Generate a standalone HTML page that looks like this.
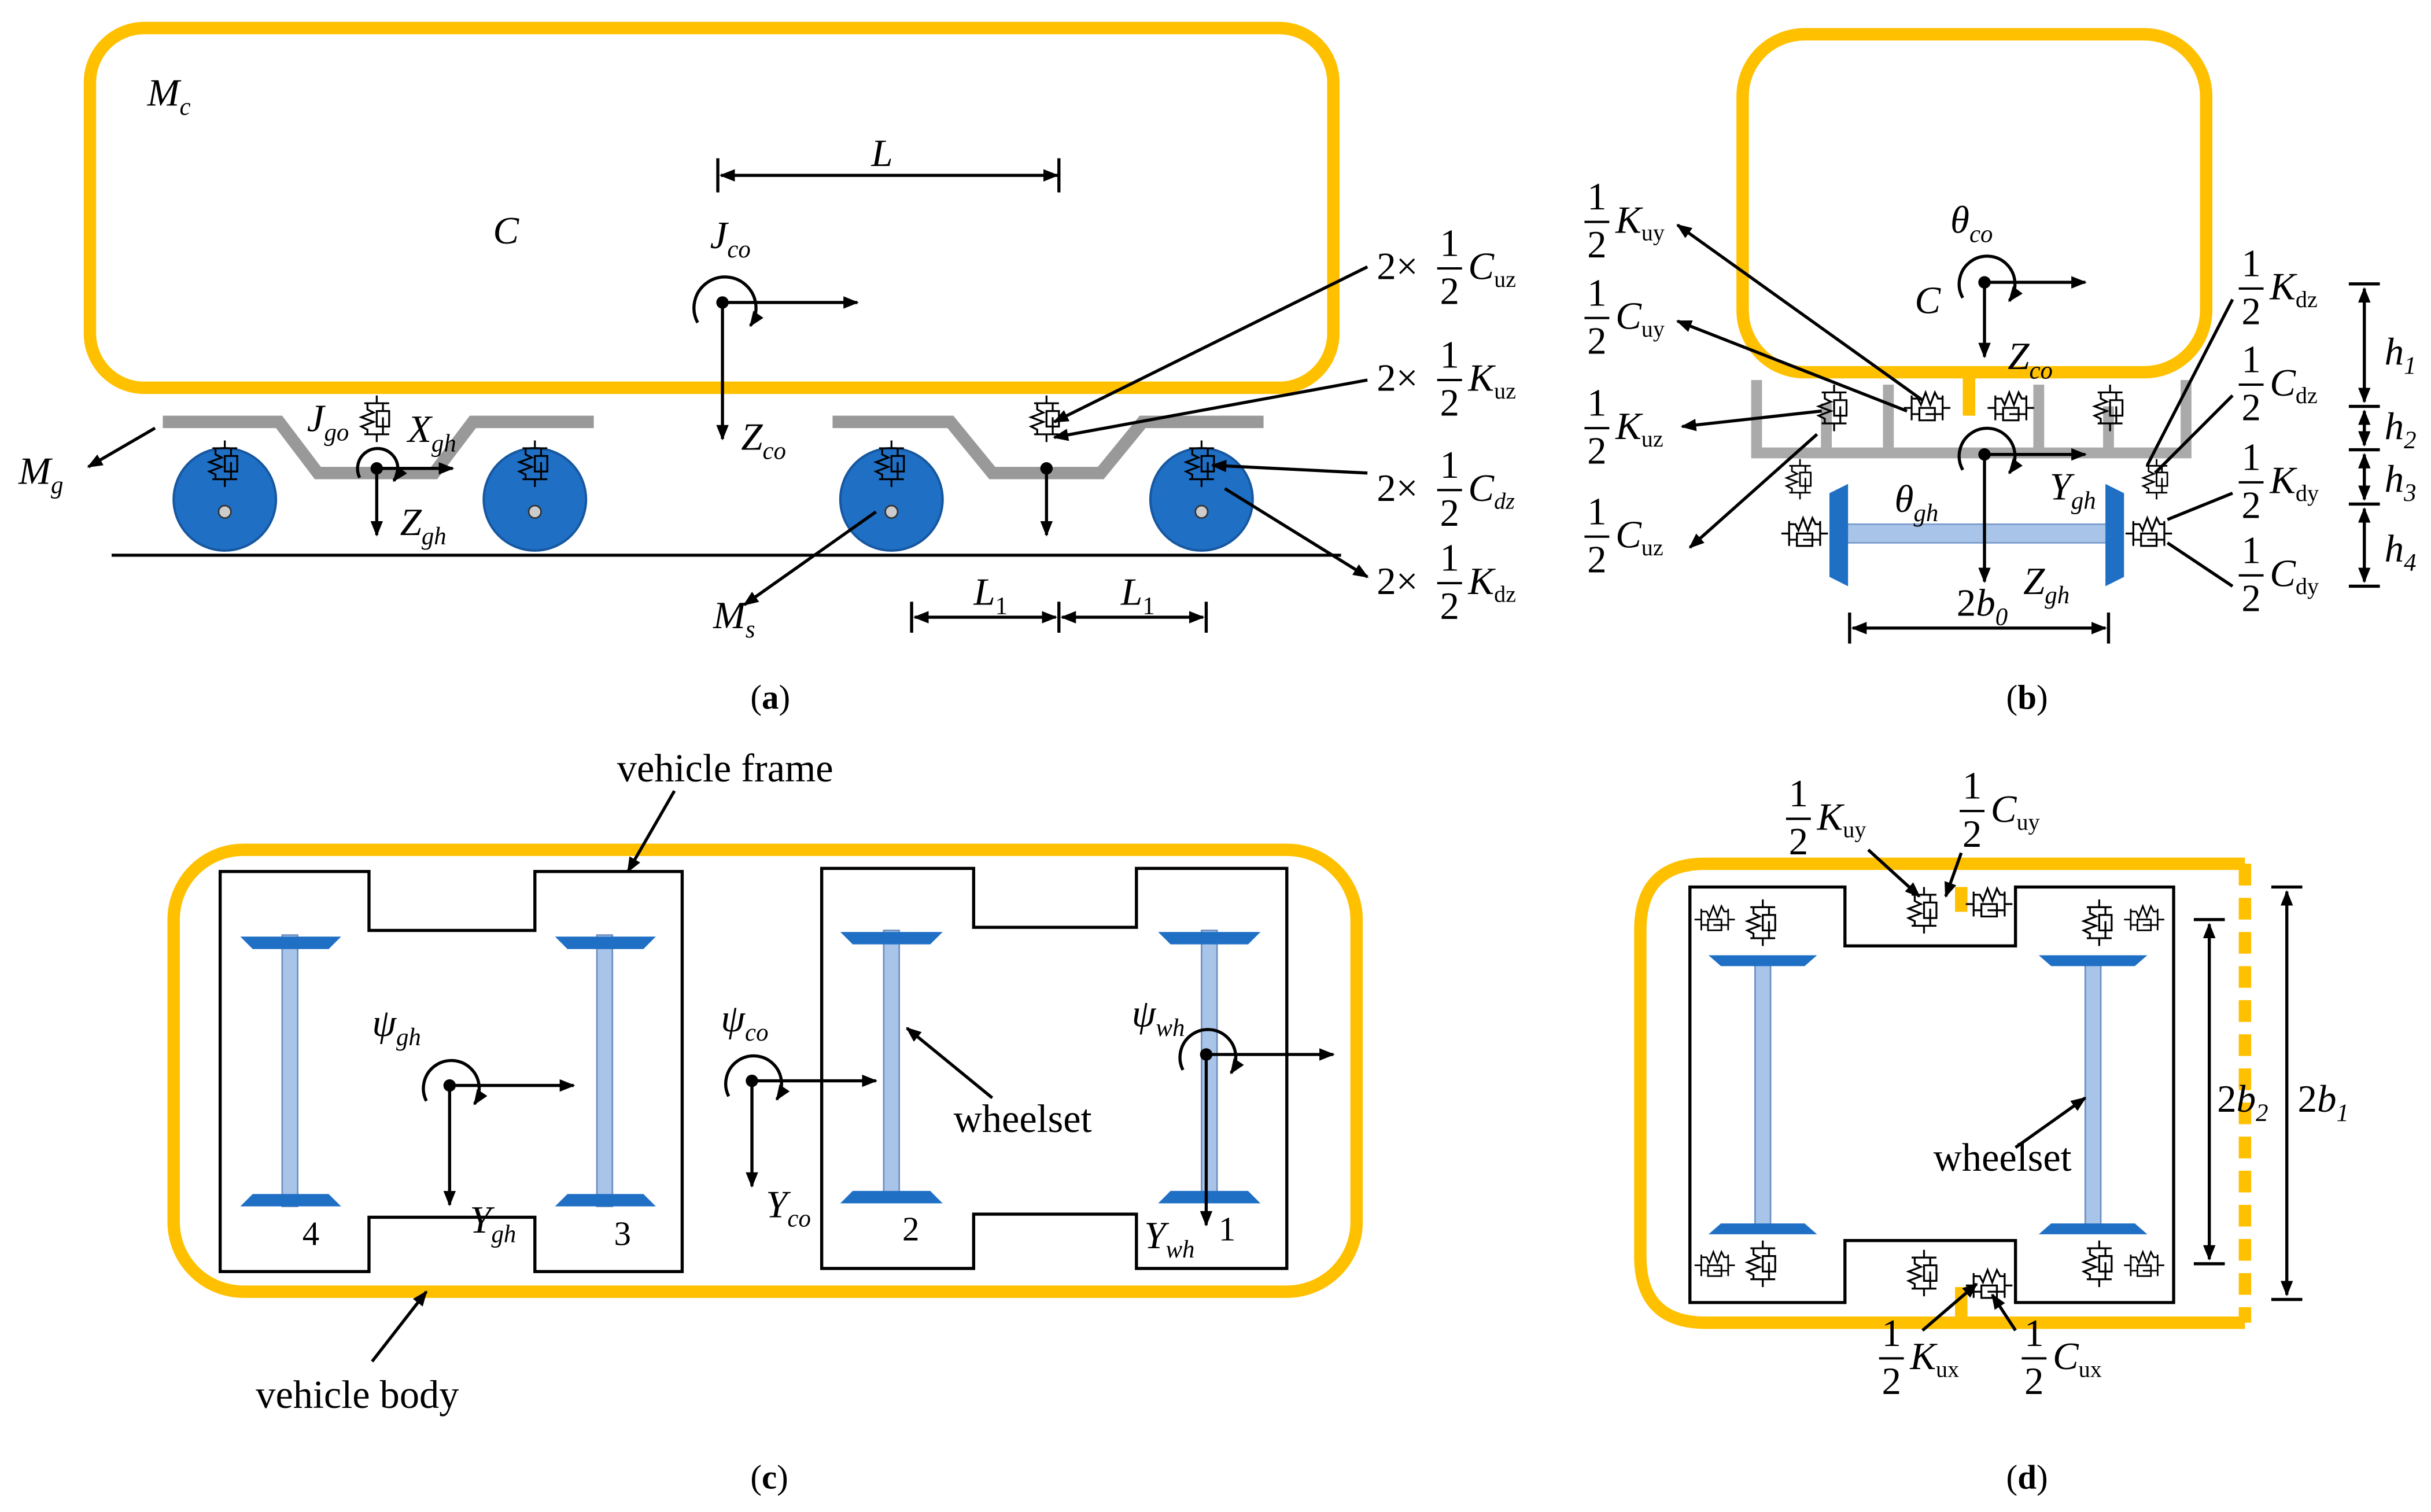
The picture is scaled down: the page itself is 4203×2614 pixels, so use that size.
<!DOCTYPE html>
<html><head><meta charset="utf-8"><style>
html,body{margin:0;padding:0;background:#fff;}
svg{display:block;}
text{font-family:"Liberation Serif",serif;fill:#000;}
.i{font-style:italic;}
</style></head><body>
<svg width="4203" height="2614" viewBox="0 0 1568 975" xmlns="http://www.w3.org/2000/svg">
<defs>
<marker id="ar" markerWidth="10" markerHeight="10" refX="9" refY="5" orient="auto" markerUnits="userSpaceOnUse"><path d="M0,1 L10,5 L0,9 z" fill="#000"/></marker>
<marker id="ar2" markerWidth="10" markerHeight="10" refX="1" refY="5" orient="auto" markerUnits="userSpaceOnUse"><path d="M10,1 L0,5 L10,9 z" fill="#000"/></marker>
<symbol id="sd" viewBox="0 0 22 30" overflow="visible">
<path d="M11 0 V5 M3 5 H19 M5 5 V9 l4 2 -8 3 8 3 -8 3 4 2 V25 M15 5 V10 M11 10 H19 V20 H11 Z M15 14 V25 M3 25 H19 M11 25 V30" fill="none" stroke="#000" stroke-width="1.2"/>
</symbol>
<symbol id="sdh" viewBox="0 0 30 22" overflow="visible">
<path d="M0 11 H5 M5 3 V19 M5 5 H9 l2 4 3 -8 3 8 3 -8 2 4 H25 M5 15 H10 M10 11 H20 V19 H10 Z M14 15 H25 M25 3 V19 M25 11 H30" fill="none" stroke="#000" stroke-width="1.2"/>
</symbol>
</defs>
<g fill="none" stroke="#FFC000" stroke-width="8">
<rect x="58" y="18" width="802" height="232" rx="35"/>
<rect x="1124" y="22" width="299" height="218" rx="40"/>
<rect x="112" y="548" width="763" height="285" rx="45"/>
<path d="M1448 557 H1100 Q1058 557 1058 600 V810 Q1058 853 1100 853 H1448"/>
</g>
<path d="M1448 557 V853" stroke="#FFC000" stroke-width="8" stroke-dasharray="14,8" fill="none"/>

<!-- panel a -->
<text x="95" y="68" font-size="25" class="i">M<tspan font-size="16" dy="6">c</tspan></text>
<text x="318" y="157" font-size="25" class="i">C</text>
<g stroke="#000" stroke-width="2" fill="none">
<path d="M465 113 H682" marker-start="url(#ar2)" marker-end="url(#ar)"/><path d="M463 102 V124 M683 102 V124"/>
<path d="M466 195 H553" marker-end="url(#ar)"/><path d="M466 195 V283" marker-end="url(#ar)"/>
<path d="M450 208 A20 20 0 1 1 484 210" marker-end="url(#ar)"/>
</g>
<circle cx="466" cy="195" r="4"/>
<text x="562" y="107" font-size="25" class="i">L</text>
<text x="458" y="160" font-size="25" class="i">J<tspan font-size="16" dy="6">co</tspan></text>
<text x="478" y="290" font-size="25" class="i">Z<tspan font-size="16" dy="6">co</tspan></text>
<g fill="none" stroke="#999" stroke-width="8">
<path d="M105 272 H180 L205 305 H280 L305 272 H383"/>
<path d="M537 272 H613 L640 305 H710 L737 272 H815"/>
</g>
<path d="M72 358 H865" stroke="#000" stroke-width="2"/>
<g fill="#1F6FC5" stroke="#1657a0" stroke-width="1.5">
<circle cx="145" cy="322" r="33"/><circle cx="345" cy="322" r="33"/><circle cx="575" cy="322" r="33"/><circle cx="775" cy="322" r="33"/>
</g>
<g fill="#ccc" stroke="#333"><circle cx="145" cy="330" r="4"/><circle cx="345" cy="330" r="4"/><circle cx="575" cy="330" r="4"/><circle cx="775" cy="330" r="4"/></g>
<use href="#sd" x="134" y="284" width="22" height="30"/>
<use href="#sd" x="334" y="284" width="22" height="30"/>
<use href="#sd" x="564" y="284" width="22" height="30"/>
<use href="#sd" x="764" y="284" width="22" height="30"/>
<use href="#sd" x="232" y="255" width="22" height="30"/>
<use href="#sd" x="664" y="255" width="22" height="30"/>
<g stroke="#000" stroke-width="2" fill="none">
<path d="M243 302 H292" marker-end="url(#ar)"/><path d="M243 302 V345" marker-end="url(#ar)"/>
<path d="M232 308 A13 13 0 1 1 254 310" marker-end="url(#ar)"/>
<path d="M675 302 V345" marker-end="url(#ar)"/>
<path d="M100 276 L57 301" marker-end="url(#ar)"/>
<path d="M565 330 L480 390" marker-end="url(#ar)"/>
<path d="M590 398 H681" marker-start="url(#ar2)" marker-end="url(#ar)"/><path d="M685 398 H776" marker-start="url(#ar2)" marker-end="url(#ar)"/>
<path d="M588 388 V408 M683 388 V408 M778 388 V408"/>
<path d="M680 272 L882 172" marker-start="url(#ar2)"/>
<path d="M680 282 L882 245" marker-start="url(#ar2)"/>
<path d="M782 300 L882 305" marker-start="url(#ar2)"/>
<path d="M790 315 L882 372" marker-end="url(#ar)"/>
</g>
<circle cx="243" cy="302" r="4"/><circle cx="675" cy="302" r="4"/>
<text x="12" y="312" font-size="25" class="i">M<tspan font-size="16" dy="6">g</tspan></text>
<text x="198" y="278" font-size="25" class="i">J<tspan font-size="16" dy="6">go</tspan></text>
<text x="263" y="285" font-size="25" class="i">X<tspan font-size="16" dy="6">gh</tspan></text>
<text x="258" y="345" font-size="25" class="i">Z<tspan font-size="16" dy="6">gh</tspan></text>
<text x="460" y="405" font-size="25" class="i">M<tspan font-size="16" dy="6">s</tspan></text>
<text x="628" y="390" font-size="25" class="i">L<tspan font-size="16" dy="6" font-style="normal">1</tspan></text>
<text x="723" y="390" font-size="25" class="i">L<tspan font-size="16" dy="6" font-style="normal">1</tspan></text>
<g font-size="25">
<text x="888" y="180">2×</text><text x="935" y="165" text-anchor="middle">1</text><path d="M927 173 H943" stroke="#000" stroke-width="1.5"/><text x="935" y="196" text-anchor="middle">2</text><text x="947" y="180" class="i">C<tspan font-size="15" dy="5" font-style="normal">uz</tspan></text>
<text x="888" y="252">2×</text><text x="935" y="237" text-anchor="middle">1</text><path d="M927 245 H943" stroke="#000" stroke-width="1.5"/><text x="935" y="268" text-anchor="middle">2</text><text x="947" y="252" class="i">K<tspan font-size="15" dy="5" font-style="normal">uz</tspan></text>
<text x="888" y="323">2×</text><text x="935" y="308" text-anchor="middle">1</text><path d="M927 316 H943" stroke="#000" stroke-width="1.5"/><text x="935" y="339" text-anchor="middle">2</text><text x="947" y="323" class="i">C<tspan font-size="15" dy="5">dz</tspan></text>
<text x="888" y="383">2×</text><text x="935" y="368" text-anchor="middle">1</text><path d="M927 376 H943" stroke="#000" stroke-width="1.5"/><text x="935" y="399" text-anchor="middle">2</text><text x="947" y="383" class="i">K<tspan font-size="15" dy="5" font-style="normal">dz</tspan></text>
</g>
<text x="484" y="457" font-size="22">(<tspan font-weight="bold">a</tspan>)</text>

<!-- panel b -->
<text x="1258" y="150" font-size="25" class="i">θ<tspan font-size="16" dy="6">co</tspan></text>
<text x="1235" y="202" font-size="25" class="i">C</text>
<text x="1295" y="238" font-size="25" class="i">Z<tspan font-size="16" dy="6">co</tspan></text>
<g stroke="#000" stroke-width="2" fill="none">
<path d="M1280 182 H1345" marker-end="url(#ar)"/><path d="M1280 182 V230" marker-end="url(#ar)"/>
<path d="M1266 192 A18 18 0 1 1 1296 194" marker-end="url(#ar)"/>
</g>
<circle cx="1280" cy="182" r="4"/>
<path d="M1270 240 V268" stroke="#FFC000" stroke-width="8"/>
<g stroke="#aaa" stroke-width="7" fill="none">
<path d="M1133 245 V292 H1410 V245 M1178 292 V260 M1218 292 V248 M1315 292 V248 M1360 292 V262"/>
</g>
<use href="#sdh" x="1228" y="252" width="30" height="22"/>
<use href="#sdh" x="1282" y="252" width="30" height="22"/>
<use href="#sd" x="1172" y="248" width="22" height="30"/>
<use href="#sd" x="1350" y="248" width="22" height="30"/>
<use href="#sd" x="1150" y="296" width="22" height="26"/>
<use href="#sd" x="1380" y="296" width="22" height="26"/>
<use href="#sdh" x="1148" y="333" width="32" height="22"/>
<use href="#sdh" x="1370" y="333" width="32" height="22"/>
<rect x="1185" y="338" width="180" height="12" fill="#A8C4E8" stroke="#7a9acb"/>
<path d="M1180 318 L1192 312 V378 L1180 372 Z" fill="#1F6FC5"/>
<path d="M1370 318 L1358 312 V378 L1370 372 Z" fill="#1F6FC5"/>
<g stroke="#000" stroke-width="2" fill="none">
<path d="M1280 293 H1345" marker-end="url(#ar)"/><path d="M1280 293 V375" marker-end="url(#ar)"/>
<path d="M1266 303 A18 18 0 1 1 1296 305" marker-end="url(#ar)"/>
<path d="M1195 405 H1358" marker-start="url(#ar2)" marker-end="url(#ar)"/><path d="M1193 395 V415 M1360 395 V415"/>
<path d="M1525 183 H1515 M1525 183 H1535 M1515 262 H1535 M1515 290 H1535 M1515 325 H1535 M1515 378 H1535"/>
<path d="M1525 186 V259" marker-start="url(#ar2)" marker-end="url(#ar)"/>
<path d="M1525 265 V287" marker-start="url(#ar2)" marker-end="url(#ar)"/>
<path d="M1525 293 V322" marker-start="url(#ar2)" marker-end="url(#ar)"/>
<path d="M1525 328 V375" marker-start="url(#ar2)" marker-end="url(#ar)"/>
<path d="M1240 258 L1082 145" marker-end="url(#ar)"/>
<path d="M1230 265 L1082 207" marker-end="url(#ar)"/>
<path d="M1175 265 L1085 275" marker-end="url(#ar)"/>
<path d="M1172 280 L1090 353" marker-end="url(#ar)"/>
<path d="M1385 300 L1440 193"/>
<path d="M1390 305 L1440 255"/>
<path d="M1398 335 L1440 318"/>
<path d="M1398 350 L1440 378"/>
</g>
<circle cx="1280" cy="293" r="4"/>
<text x="1222" y="330" font-size="25" class="i">θ<tspan font-size="16" dy="6">gh</tspan></text>
<text x="1322" y="322" font-size="25" class="i">Y<tspan font-size="16" dy="6">gh</tspan></text>
<text x="1305" y="383" font-size="25" class="i">Z<tspan font-size="16" dy="6">gh</tspan></text>
<text x="1262" y="397" font-size="25">2<tspan class="i">b</tspan><tspan font-size="16" dy="6" class="i">0</tspan></text>
<g font-size="25" class="i">
<text x="1538" y="235">h<tspan font-size="16" dy="6">1</tspan></text>
<text x="1538" y="283">h<tspan font-size="16" dy="6">2</tspan></text>
<text x="1538" y="317">h<tspan font-size="16" dy="6">3</tspan></text>
<text x="1538" y="362">h<tspan font-size="16" dy="6">4</tspan></text>
</g>
<g font-size="25">
<text x="1030" y="135" text-anchor="middle">1</text><path d="M1022 143 H1038" stroke="#000" stroke-width="1.5"/><text x="1030" y="166" text-anchor="middle">2</text><text x="1042" y="150" class="i">K<tspan font-size="15" dy="5" font-style="normal">uy</tspan></text>
<text x="1030" y="197" text-anchor="middle">1</text><path d="M1022 205 H1038" stroke="#000" stroke-width="1.5"/><text x="1030" y="228" text-anchor="middle">2</text><text x="1042" y="212" class="i">C<tspan font-size="15" dy="5" font-style="normal">uy</tspan></text>
<text x="1030" y="268" text-anchor="middle">1</text><path d="M1022 276 H1038" stroke="#000" stroke-width="1.5"/><text x="1030" y="299" text-anchor="middle">2</text><text x="1042" y="283" class="i">K<tspan font-size="15" dy="5" font-style="normal">uz</tspan></text>
<text x="1030" y="338" text-anchor="middle">1</text><path d="M1022 346 H1038" stroke="#000" stroke-width="1.5"/><text x="1030" y="369" text-anchor="middle">2</text><text x="1042" y="353" class="i">C<tspan font-size="15" dy="5" font-style="normal">uz</tspan></text>
<text x="1452" y="178" text-anchor="middle">1</text><path d="M1444 186 H1460" stroke="#000" stroke-width="1.5"/><text x="1452" y="209" text-anchor="middle">2</text><text x="1464" y="193" class="i">K<tspan font-size="15" dy="5" font-style="normal">dz</tspan></text>
<text x="1452" y="240" text-anchor="middle">1</text><path d="M1444 248 H1460" stroke="#000" stroke-width="1.5"/><text x="1452" y="271" text-anchor="middle">2</text><text x="1464" y="255" class="i">C<tspan font-size="15" dy="5" font-style="normal">dz</tspan></text>
<text x="1452" y="303" text-anchor="middle">1</text><path d="M1444 311 H1460" stroke="#000" stroke-width="1.5"/><text x="1452" y="334" text-anchor="middle">2</text><text x="1464" y="318" class="i">K<tspan font-size="15" dy="5" font-style="normal">dy</tspan></text>
<text x="1452" y="363" text-anchor="middle">1</text><path d="M1444 371 H1460" stroke="#000" stroke-width="1.5"/><text x="1452" y="394" text-anchor="middle">2</text><text x="1464" y="378" class="i">C<tspan font-size="15" dy="5" font-style="normal">dy</tspan></text>
</g>
<text x="1294" y="457" font-size="22">(<tspan font-weight="bold">b</tspan>)</text>

<!-- panel c -->
<g fill="none" stroke="#000" stroke-width="2">
<path d="M142 562 H238 V600 H345 V562 H440 V820 H345 V785 H238 V820 H142 Z"/>
<path d="M530 560 H628 V598 H733 V560 H830 V818 H733 V783 H628 V818 H530 Z"/>
</g>
<g fill="#A8C4E8" stroke="#6f8fbf">
<rect x="182" y="603" width="10" height="175"/><rect x="385" y="603" width="10" height="175"/>
<rect x="570" y="600" width="10" height="175"/><rect x="775" y="600" width="10" height="175"/>
</g>
<g fill="#1F6FC5">
<path d="M155 604 H220 L212 612 H163 Z"/><path d="M155 778 H220 L212 770 H163 Z"/>
<path d="M358 604 H423 L415 612 H366 Z"/><path d="M358 778 H423 L415 770 H366 Z"/>
<path d="M542 601 H608 L600 609 H550 Z"/><path d="M542 776 H608 L600 768 H550 Z"/>
<path d="M747 601 H813 L805 609 H755 Z"/><path d="M747 776 H813 L805 768 H755 Z"/>
</g>
<g font-size="22"><text x="195" y="803">4</text><text x="396" y="803">3</text><text x="582" y="800">2</text><text x="786" y="800">1</text></g>
<g stroke="#000" stroke-width="2" fill="none">
<path d="M290 700 H370" marker-end="url(#ar)"/><path d="M290 700 V777" marker-end="url(#ar)"/>
<path d="M275 710 A18 18 0 1 1 306 712" marker-end="url(#ar)"/>
<path d="M485 697 H565" marker-end="url(#ar)"/><path d="M485 697 V765" marker-end="url(#ar)"/>
<path d="M470 707 A18 18 0 1 1 501 709" marker-end="url(#ar)"/>
<path d="M778 680 H860" marker-end="url(#ar)"/><path d="M778 680 V790" marker-end="url(#ar)"/>
<path d="M763 690 A18 18 0 1 1 794 692" marker-end="url(#ar)"/>
<path d="M435 510 L405 562" marker-end="url(#ar)"/>
<path d="M640 708 L585 663" marker-end="url(#ar)"/>
<path d="M240 878 L275 833" marker-end="url(#ar)"/>
</g>
<circle cx="290" cy="700" r="4"/><circle cx="485" cy="697" r="4"/><circle cx="778" cy="680" r="4"/>
<text x="240" y="668" font-size="25" class="i">ψ<tspan font-size="16" dy="6">gh</tspan></text>
<text x="303" y="795" font-size="25" class="i">Y<tspan font-size="16" dy="6">gh</tspan></text>
<text x="465" y="665" font-size="25" class="i">ψ<tspan font-size="16" dy="6">co</tspan></text>
<text x="494" y="785" font-size="25" class="i">Y<tspan font-size="16" dy="6">co</tspan></text>
<text x="730" y="662" font-size="25" class="i">ψ<tspan font-size="16" dy="6">wh</tspan></text>
<text x="738" y="805" font-size="25" class="i">Y<tspan font-size="16" dy="6">wh</tspan></text>
<text x="398" y="504" font-size="25.5">vehicle frame</text>
<text x="615" y="730" font-size="25.5">wheelset</text>
<text x="165" y="908" font-size="25.5">vehicle body</text>
<text x="484" y="960" font-size="22">(<tspan font-weight="bold">c</tspan>)</text>

<!-- panel d -->
<path d="M1090 572 H1190 V610 H1300 V572 H1402 V840 H1300 V800 H1190 V840 H1090 Z" fill="none" stroke="#000" stroke-width="2"/>
<path d="M1265 572 V588 M1265 830 V850" stroke="#FFC000" stroke-width="8"/>
<g fill="#A8C4E8" stroke="#6f8fbf">
<rect x="1132" y="620" width="10" height="172"/><rect x="1345" y="620" width="10" height="172"/>
</g>
<g fill="#1F6FC5">
<path d="M1102 616 H1172 L1164 623 H1110 Z"/><path d="M1102 796 H1172 L1164 789 H1110 Z"/>
<path d="M1315 616 H1385 L1377 623 H1323 Z"/><path d="M1315 796 H1385 L1377 789 H1323 Z"/>
</g>
<use href="#sd" x="1230" y="572" width="22" height="30"/>
<use href="#sdh" x="1268" y="572" width="30" height="22"/>
<use href="#sd" x="1230" y="806" width="22" height="30"/>
<use href="#sdh" x="1268" y="818" width="30" height="22"/>
<use href="#sdh" x="1093" y="582" width="26" height="22"/>
<use href="#sd" x="1125" y="580" width="24" height="30"/>
<use href="#sdh" x="1370" y="582" width="26" height="22"/>
<use href="#sd" x="1342" y="580" width="24" height="30"/>
<use href="#sdh" x="1093" y="805" width="26" height="22"/>
<use href="#sd" x="1125" y="800" width="24" height="30"/>
<use href="#sdh" x="1370" y="805" width="26" height="22"/>
<use href="#sd" x="1342" y="800" width="24" height="30"/>
<g stroke="#000" stroke-width="2" fill="none">
<path d="M1425 596 V812" marker-start="url(#ar2)" marker-end="url(#ar)"/><path d="M1415 593 H1435 M1415 815 H1435"/>
<path d="M1475 575 V835" marker-start="url(#ar2)" marker-end="url(#ar)"/><path d="M1465 572 H1485 M1465 838 H1485"/>
<path d="M1300 740 L1345 708" marker-end="url(#ar)"/>
<path d="M1205 548 L1238 578" marker-end="url(#ar)"/>
<path d="M1265 550 L1255 578" marker-end="url(#ar)"/>
<path d="M1240 858 L1275 828" marker-end="url(#ar)"/>
<path d="M1300 858 L1285 835" marker-end="url(#ar)"/>
</g>
<text x="1247" y="755" font-size="25.5">wheelset</text>
<text x="1430" y="717" font-size="25">2<tspan class="i">b</tspan><tspan font-size="16" dy="6" class="i">2</tspan></text>
<text x="1482" y="717" font-size="25">2<tspan class="i">b</tspan><tspan font-size="16" dy="6" class="i">1</tspan></text>
<g font-size="25">
<text x="1160" y="520" text-anchor="middle">1</text><path d="M1152 528 H1168" stroke="#000" stroke-width="1.5"/><text x="1160" y="551" text-anchor="middle">2</text><text x="1172" y="535" class="i">K<tspan font-size="15" dy="5" font-style="normal">uy</tspan></text>
<text x="1272" y="515" text-anchor="middle">1</text><path d="M1264 523 H1280" stroke="#000" stroke-width="1.5"/><text x="1272" y="546" text-anchor="middle">2</text><text x="1284" y="530" class="i">C<tspan font-size="15" dy="5" font-style="normal">uy</tspan></text>
<text x="1220" y="868" text-anchor="middle">1</text><path d="M1212 876 H1228" stroke="#000" stroke-width="1.5"/><text x="1220" y="899" text-anchor="middle">2</text><text x="1232" y="883" class="i">K<tspan font-size="15" dy="5" font-style="normal">ux</tspan></text>
<text x="1312" y="868" text-anchor="middle">1</text><path d="M1304 876 H1320" stroke="#000" stroke-width="1.5"/><text x="1312" y="899" text-anchor="middle">2</text><text x="1324" y="883" class="i">C<tspan font-size="15" dy="5" font-style="normal">ux</tspan></text>
</g>
<text x="1294" y="960" font-size="22">(<tspan font-weight="bold">d</tspan>)</text>
</svg>
</body></html>
